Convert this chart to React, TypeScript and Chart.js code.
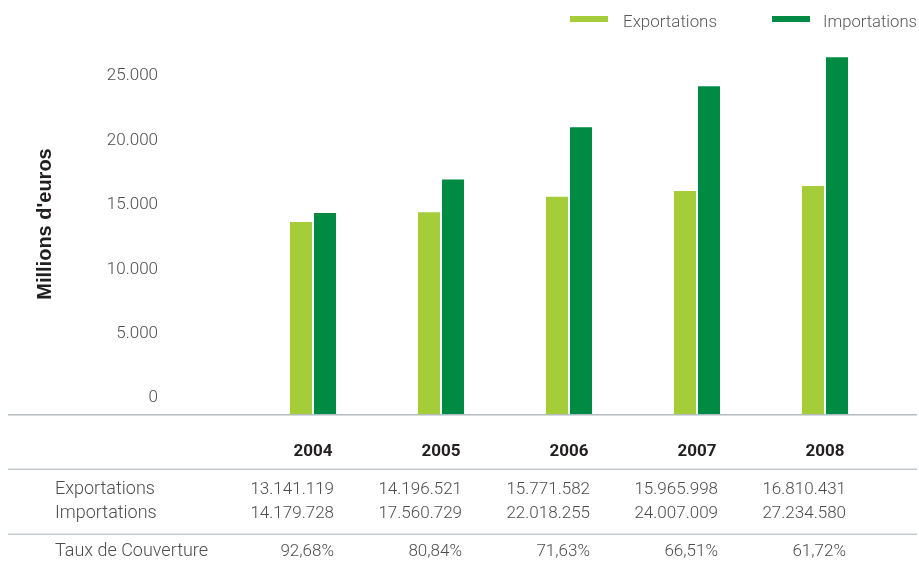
import React, { useEffect, useRef, useState } from 'react';
import { Chart, registerables } from 'chart.js';

Chart.register(...registerables);

// ---- data ----
const years = ['2004', '2005', '2006', '2007', '2008'];
const exportBars = [13600, 14350, 15550, 16000, 16400];
const importBars = [14300, 16900, 20950, 24150, 26400];
const exportTable = [13141119, 14196521, 15771582, 15965998, 16810431];
const importTable = [14179728, 17560729, 22018255, 24007009, 27234580];
const coverage = [92.68, 80.84, 71.63, 66.51, 61.72];
const yTicks = [0, 5000, 10000, 15000, 20000, 25000];
const seriesNames = ['Exportations', 'Importations'];
const rowLabels = ['Exportations', 'Importations', 'Taux de Couverture'];

// ---- styles ----
const EXPORT_COLOR = '#a5cd39';
const IMPORT_COLOR = '#008a43';
const LINE_COLOR = '#c2cacf';
const TEXT_GREY = '#4d4d4d';
const FONT = 'Roboto, "Noto Sans", sans-serif';

const W = 919;
const H = 568;

const fmtDots = (n: number) => String(n).replace(/\B(?=(\d{3})+(?!\d))/g, '.');
const fmtPct = (n: number) => n.toFixed(2).replace('.', ',') + '%';

const legendPlugin = {
  id: 'customLegend',
  afterDraw(chart: any) {
    const ctx = chart.ctx;
    const boxX = [570, 772];
    const textX = [623, 823];
    ctx.save();
    chart.data.datasets.forEach((ds: any, i: number) => {
      ctx.fillStyle = ds.backgroundColor;
      ctx.fillRect(boxX[i], 16, 38, 6);
      ctx.fillStyle = '#58595b';
      ctx.font = `300 17px ${FONT}`;
      ctx.textAlign = 'left';
      ctx.textBaseline = 'alphabetic';
      ctx.fillText(ds.label, textX[i], 26.5, 94);
    });
    ctx.restore();
  },
};

const linesPlugin = {
  id: 'customLines',
  beforeDatasetsDraw(chart: any) {
    const ctx = chart.ctx;
    const b = chart.chartArea.bottom;
    ctx.save();
    ctx.fillStyle = '#b3bbc0';
    ctx.fillRect(8, b, 909, 1.5);
    ctx.fillStyle = LINE_COLOR;
    ctx.fillRect(8, 468.5, 909, 1.5);
    ctx.fillRect(8, 533.5, 909, 1.5);
    ctx.restore();
  },
};

export default function App() {
  const canvasRef = useRef<HTMLCanvasElement | null>(null);
  const [cols, setCols] = useState<number[]>([]);

  useEffect(() => {
    if (!canvasRef.current) return;
    const chart = new Chart(canvasRef.current, {
      type: 'bar',
      data: {
        labels: years,
        datasets: [
          {
            label: seriesNames[0],
            data: exportBars,
            backgroundColor: EXPORT_COLOR,
            categoryPercentage: 0.375,
            barPercentage: 0.92,
            base: -1320,
          },
          {
            label: seriesNames[1],
            data: importBars,
            backgroundColor: IMPORT_COLOR,
            categoryPercentage: 0.375,
            barPercentage: 0.92,
            base: -1320,
          },
        ],
      },
      options: {
        responsive: false,
        animation: false,
        devicePixelRatio: 1,
        layout: { padding: { top: 34, right: 30, left: 0, bottom: 0 } },
        plugins: {
          legend: { display: false },
          tooltip: { enabled: false },
          title: { display: false },
        },
        scales: {
          x: {
            grid: { display: false, drawTicks: false },
            border: { display: false },
            ticks: {
              padding: 28,
              color: '#231f20',
              font: { family: FONT, size: 17, weight: 'bold' },
            },
            afterFit(scale: any) {
              scale.height = 154;
            },
          },
          y: {
            min: -1320,
            max: 28200,
            grid: { display: false, drawTicks: false },
            border: { display: false },
            afterBuildTicks(scale: any) {
              scale.ticks = yTicks.map((v) => ({ value: v }));
            },
            ticks: {
              padding: 91,
              labelOffset: 1,
              color: TEXT_GREY,
              font: { family: FONT, size: 17, weight: '300' },
              callback: (v: any) => fmtDots(Number(v)),
            },
            title: {
              display: true,
              text: "Millions d'euros",
              color: '#231f20',
              padding: { top: 33, bottom: 0 },
              font: { family: '"Liberation Sans", Arial, sans-serif', size: 20, weight: 'bold' },
            },
            afterFit(scale: any) {
              scale.width = 249;
              scale.paddingTop = 10;
              scale.paddingBottom = 10;
            },
          },
        },
      },
      plugins: [legendPlugin, linesPlugin],
    });
    const xs = chart.scales.x;
    setCols(years.map((_, i) => xs.getPixelForValue(i) + 21));
    return () => chart.destroy();
  }, []);

  const cell = (x: number, y: number, text: string, size: number, right: boolean, key: string) => (
    <span
      key={key}
      style={{
        position: 'absolute',
        left: x,
        top: y,
        transform: right ? 'translate(-100%, -50%)' : 'translate(0, -50%)',
        whiteSpace: 'nowrap',
        fontFamily: FONT,
        fontWeight: 300,
        fontSize: size,
        lineHeight: '20px',
        color: TEXT_GREY,
      }}
    >
      {text}
    </span>
  );

  const rowsY = [488, 511.5, 549.5];
  const rows = [exportTable.map(fmtDots), importTable.map(fmtDots), coverage.map(fmtPct)];

  return (
    <div style={{ position: 'absolute', left: 0, top: 0, width: W, height: H, background: '#fff' }}>
      <canvas ref={canvasRef} width={W} height={H} style={{ display: 'block', width: W, height: H }} />
      {rowLabels.map((l, r) => cell(55, rowsY[r], l, 18, false, 'l' + r))}
      {cols.length > 0 &&
        rows.map((vals, r) => vals.map((v, i) => cell(cols[i], rowsY[r], v, 17, true, `c${r}-${i}`)))}
    </div>
  );
}
